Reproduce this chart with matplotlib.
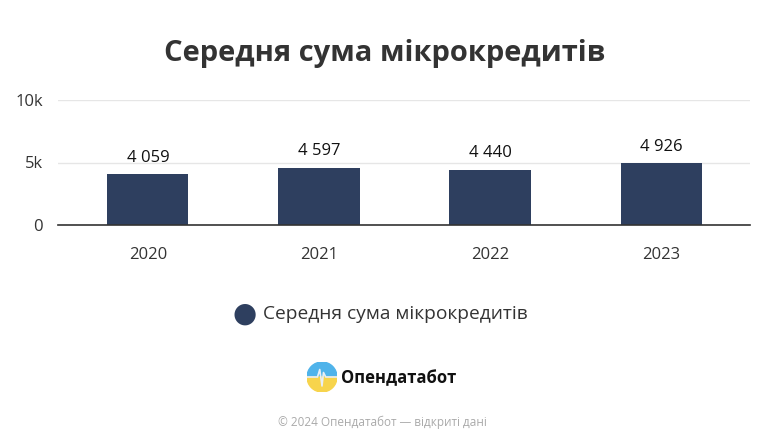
import numpy as np
import matplotlib.pyplot as plt
from matplotlib.patches import Wedge

plt.rcParams['font.family'] = ['Open Sans', 'DejaVu Sans']

years = ["2020", "2021", "2022", "2023"]
values = [4059, 4597, 4440, 4926]
value_labels = ["4 059", "4 597", "4 440", "4 926"]
yticks = [0, 5000, 10000]
ytick_labels = ["0", "5k", "10k"]

bar_color = "#2e3f5f"

fig = plt.figure(figsize=(7.64, 4.46), dpi=100)
fig.patch.set_facecolor("white")

ax = fig.add_axes([58 / 764, 1 - 225 / 446, 692 / 764, 125 / 446])
x = np.arange(len(years))
ax.bar(x, values, width=0.474, color=bar_color, zorder=3)
for xi, v, lab in zip(x, values, value_labels):
    ax.text(xi, v + 700, lab, ha="center", va="bottom", fontsize=12, color="#111111")

ax.set_xlim(-0.526, 3.52)
ax.set_ylim(0, 10000)
ax.set_yticks(yticks)
ax.set_yticklabels(ytick_labels, fontsize=12, color="#333333")
ax.set_xticks(x)
ax.set_xticklabels(years, fontsize=12, color="#333333")
ax.tick_params(axis="both", length=0)
ax.tick_params(axis="x", pad=16)
ax.tick_params(axis="y", pad=11)
ax.grid(axis="y", color="#e6e6e6", linewidth=1, zorder=0)
for s in ["top", "right", "left"]:
    ax.spines[s].set_visible(False)
ax.spines["bottom"].set_color("#333333")
ax.spines["bottom"].set_linewidth(1.2)
ax.spines["bottom"].set_zorder(4)

fig.text(0.503, 1 - 53 / 446, "Середня сума мікрокредитів", ha="center", va="center",
         fontsize=21, fontweight="bold", color="#333333")

# legend
fig.text(245 / 764, 1 - 314 / 446, "●", ha="center", va="center", fontsize=20,
         color=bar_color, family="DejaVu Sans")
fig.text(263 / 764, 1 - 314 / 446, "Середня сума мікрокредитів", ha="left", va="center",
         fontsize=13.8, color="#333333")

# logo
lax = fig.add_axes([307 / 764, 1 - 392 / 446, 30 / 764, 30 / 446])
lax.set_xlim(-1, 1)
lax.set_ylim(-1, 1)
lax.set_aspect("equal")
lax.axis("off")
lax.add_patch(Wedge((0, 0), 1, 0, 180, color="#4fb3ea"))
lax.add_patch(Wedge((0, 0), 1, 180, 360, color="#f7d44c"))
lax.plot([-1, -0.3, -0.15, 0.0, 0.1, 0.25, 1], [0, 0, 0.5, -0.6, 0.3, 0, 0],
         color="#e8eef4", linewidth=1.2)
fig.text(341 / 764, 1 - 378 / 446, "Опендатабот", ha="left", va="center",
         fontsize=12, fontweight="bold", color="#111111")

fig.text(0.5, 1 - 422 / 446, "© 2024 Опендатабот — відкриті дані", ha="center",
         va="center", fontsize=8.5, color="#aaaaaa")

fig.savefig("out.png", dpi=100)
